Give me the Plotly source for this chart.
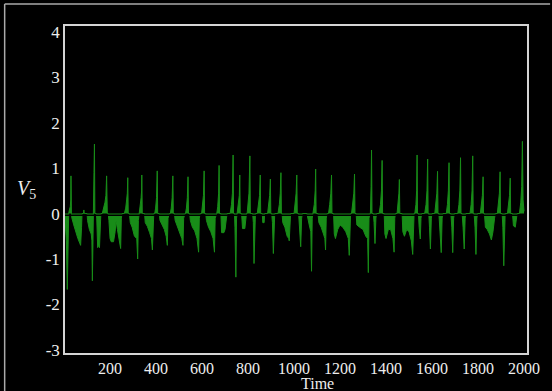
import plotly.graph_objects as go

# Key points of the V5 series (time, value)
time = [
    4, 10, 14, 17, 20, 23, 27, 29, 30, 32,
    34, 42, 50, 60, 68, 72, 76, 78, 84, 86, 88,
    100, 102, 110, 118, 121, 123, 125, 127,
    128, 130, 132, 134,
    140, 142, 146, 150, 154, 157, 160,
    166, 172, 178, 182, 185, 188,
    192, 195, 200, 205, 215, 222, 226, 232, 240, 246, 249, 252,
    262, 268, 272, 275, 277, 279,
    284, 288, 296, 306, 316, 320, 323, 327,
    328, 332, 335, 337, 338, 340,
    350, 353, 362, 372, 380, 384, 387, 390,
    394, 398, 402, 405, 407,
    414, 417, 426, 436, 444, 449, 452, 458,
    462, 466, 470, 473, 475,
    480, 483, 492, 502, 512, 517, 520, 526,
    528, 532, 536, 539, 541,
    546, 549, 558, 568, 578, 585, 588, 592,
    598, 602, 606, 609, 611,
    616, 619, 628, 638, 648, 654, 657, 662,
    664, 668, 672, 674, 676,
    682, 685, 695, 700, 706, 709,
    722, 728, 732, 735, 737,
    741, 743, 747, 750, 752,
    754, 758, 762, 764, 766,
    772, 776, 786, 790, 793,
    796, 800, 804, 808, 810,
    820, 823, 826, 829, 832,
    840, 846, 850, 853, 855,
    862, 864, 870, 872,
    885, 890, 894, 897, 899,
    903, 906, 910, 913, 916,
    930, 936, 940, 943, 945,
    948, 951, 960, 970, 977, 979, 982, 985,
    1000, 1005, 1009, 1012, 1014,
    1020, 1023, 1029, 1033, 1036,
    1056, 1059, 1066, 1073, 1076, 1079, 1082,
    1084, 1088, 1092, 1094, 1096,
    1104, 1108, 1118, 1128, 1134, 1137, 1140, 1144,
    1150, 1155, 1160, 1163, 1165,
    1172, 1175, 1180, 1190, 1200, 1212, 1225, 1236, 1240, 1243, 1246,
    1250, 1255, 1260, 1263, 1265,
    1270, 1273, 1285, 1300, 1312, 1320, 1323, 1326, 1330,
    1332, 1335, 1337, 1339,
    1345, 1348, 1352, 1356, 1359,
    1370, 1376, 1380, 1383, 1385,
    1392, 1395, 1400, 1410, 1420, 1430, 1435, 1438, 1441,
    1448, 1453, 1456, 1458, 1460,
    1470, 1473, 1480, 1490, 1500, 1510, 1516, 1519, 1522,
    1525, 1530, 1533, 1535, 1537,
    1541, 1544, 1549, 1552, 1555,
    1568, 1574, 1578, 1581, 1583,
    1586, 1589, 1593, 1597, 1600,
    1612, 1617, 1621, 1624, 1626,
    1630, 1634, 1640, 1644, 1647,
    1662, 1667, 1671, 1674, 1676,
    1682, 1686, 1690, 1694, 1697,
    1712, 1717, 1721, 1724, 1726,
    1731, 1735, 1740, 1744, 1747,
    1765, 1770, 1774, 1777, 1779,
    1783, 1787, 1791, 1795, 1798,
    1810, 1815, 1819, 1822, 1824,
    1828, 1832, 1840, 1850, 1858, 1865, 1872, 1875,
    1884, 1889, 1893, 1896, 1898,
    1905, 1908, 1912, 1915, 1918,
    1928, 1933, 1937, 1940, 1942,
    1950, 1954, 1962, 1967, 1970,
    1980, 1986, 1990, 1993, 1996, 2000,
]
v5 = [
    -0.1, -0.6, -1.67, -0.2, 0, 0.08, 0.15, 0.3, 0.83, 0,
    -0.1, -0.25, -0.4, -0.55, -0.65, -0.7, -0.3, 0, 0, 0.08, 0,
    0, -0.15, -0.35, -0.45, -0.6, -1.48, -0.3, 0,
    0, 0.9, 1.53, 0,
    0, -0.1, -0.75, -0.7, -0.75, -0.1, 0,
    0, 0.1, 0.25, 0.4, 0.83, 0,
    0, -0.15, -0.55, -0.62, -0.62, -0.4, -0.15, -0.35, -0.6, -0.77, -0.1, 0,
    0, 0.12, 0.3, 0.45, 0.79, 0,
    0, -0.2, -0.3, -0.5, -0.55, -1.0, -0.15, 0,
    0, 0.15, 0.35, 0.5, 0.85, 0,
    0, -0.2, -0.28, -0.42, -0.55, -0.8, -0.1, 0,
    0, 0.12, 0.35, 0.94, 0,
    0, -0.15, -0.25, -0.35, -0.5, -0.7, -0.1, 0,
    0, 0.12, 0.35, 0.83, 0,
    0, -0.15, -0.28, -0.4, -0.55, -0.7, -0.1, 0,
    0, 0.12, 0.35, 0.81, 0,
    0, -0.15, -0.3, -0.38, -0.55, -0.85, -0.1, 0,
    0, 0.15, 0.4, 0.94, 0,
    0, -0.15, -0.3, -0.4, -0.55, -0.85, -0.1, 0,
    0, 0.15, 0.45, 1.06, 0,
    0, -0.42, -0.42, -0.35, -0.1, 0,
    0, 0.2, 0.45, 1.29, 0,
    0, -0.3, -1.4, -0.1, 0,
    0, 0.2, 0.4, 0.85, 0,
    0, -0.33, -0.33, -0.1, 0,
    0, 0.2, 0.45, 1.27, 0,
    0, -0.2, -1.1, -0.1, 0,
    0, 0.2, 0.4, 0.85, 0,
    0, -0.2, -0.2, 0,
    0, 0.2, 0.4, 0.76, 0,
    0, -0.2, -0.88, -0.1, 0,
    0, 0.2, 0.45, 0.9, 0,
    0, -0.2, -0.3, -0.5, -0.55, -0.6, -0.1, 0,
    0, 0.2, 0.45, 0.85, 0,
    0, -0.2, -0.73, -0.1, 0,
    0, -0.1, -0.25, -0.4, -1.27, -0.1, 0,
    0, 0.2, 0.5, 0.98, 0,
    0, -0.2, -0.3, -0.45, -0.55, -0.8, -0.1, 0,
    0, 0.2, 0.45, 0.85, 0,
    0, -0.45, -0.55, -0.35, -0.25, -0.3, -0.4, -0.55, -0.92, -0.1, 0,
    0, 0.2, 0.45, 0.87, 0,
    0, -0.25, -0.3, -0.35, -0.5, -0.55, -1.3, -0.1, 0,
    0, 0.6, 1.4, 0,
    0, -0.2, -0.66, -0.1, 0,
    0, 0.2, 0.5, 1.17, 0,
    0, -0.45, -0.55, -0.35, -0.35, -0.55, -0.85, -0.1, 0,
    0, 0.2, 0.45, 0.75, 0,
    0, -0.4, -0.5, -0.35, -0.4, -0.6, -0.9, -0.1, 0,
    0, 0.2, 0.5, 1.29, 0,
    0, -0.3, -0.56, -0.1, 0,
    0, 0.2, 0.5, 1.2, 0,
    0, -0.3, -0.78, -0.1, 0,
    0, 0.2, 0.45, 0.93, 0,
    0, -0.3, -0.86, -0.1, 0,
    0, 0.2, 0.5, 1.12, 0,
    0, -0.3, -0.86, -0.1, 0,
    0, 0.2, 0.5, 1.23, 0,
    0, -0.3, -0.78, -0.1, 0,
    0, 0.2, 0.5, 1.27, 0,
    0, -0.3, -0.9, -0.1, 0,
    0, 0.2, 0.4, 0.81, 0,
    0, -0.3, -0.35, -0.45, -0.58, -0.4, -0.1, 0,
    0, 0.2, 0.45, 0.92, 0,
    0, -0.3, -1.15, -0.1, 0,
    0, 0.2, 0.4, 0.78, 0,
    0, -0.27, -0.3, -0.1, 0,
    0, 0.25, 0.6, 1.59, 0.3, 0.05,
]

x_ticks = [200, 400, 600, 800, 1000, 1200, 1400, 1600, 1800, 2000]
y_ticks = [-3, -2, -1, 0, 1, 2, 3, 4]

green = "rgb(24,140,24)"
frame = "#d4d4d4"
serif = "Liberation Serif, Times New Roman, DejaVu Serif, serif"
yfont = dict(family=serif, size=17, color="#eeeeee")
xfont = dict(family=serif, size=16, color="#eeeeee")

fig = go.Figure()
fig.add_trace(go.Scatter(
    x=time, y=v5, mode="lines", fill="tozeroy",
    line=dict(color=green, width=1), fillcolor=green,
    hoverinfo="skip", showlegend=False,
))

fig.update_layout(
    width=552, height=391,
    margin=dict(l=65, r=20, t=26, b=38),
    paper_bgcolor="black", plot_bgcolor="black",
    font=yfont,
    xaxis=dict(range=[4, 2013], tickvals=x_ticks, ticktext=[str(t) for t in x_ticks],
               showgrid=False, zeroline=False, showline=True, mirror=True,
               linecolor=frame, linewidth=1.5, ticks="", tickfont=xfont),
    yaxis=dict(range=[-3.07, 4.13], tickvals=y_ticks, ticktext=[str(t) for t in y_ticks],
               showgrid=False, zeroline=False, showline=True, mirror=True,
               linecolor=frame, linewidth=1.5, ticks="", tickfont=yfont),
    shapes=[
        dict(type="line", xref="paper", yref="y", x0=0, x1=1, y0=-0.035, y1=-0.035,
             line=dict(color="black", width=1.5), layer="above"),
        dict(type="line", xref="paper", yref="paper", x0=-0.1306, x1=-0.1306, y0=-0.12, y1=1.067,
             line=dict(color="#aaaaaa", width=1.5)),
        dict(type="line", xref="paper", yref="paper", x0=-0.1306, x1=1.05, y0=1.067, y1=1.067,
             line=dict(color="#aaaaaa", width=1.5)),
    ],
    annotations=[
        dict(text="Time", xref="paper", yref="paper", x=0.546, y=-0.122,
             xanchor="center", yanchor="bottom", showarrow=False, borderpad=0,
             font=dict(family=serif, size=16, color="#eeeeee")),
        dict(text="<i>V</i><sub>5</sub>", xref="paper", yref="paper", x=-0.083, y=0.50,
             xanchor="center", yanchor="middle", showarrow=False,
             font=dict(family=serif, size=20, color="#eeeeee")),
    ],
)

fig.write_html(
    "out.html",
    config={"displayModeBar": False},
    post_script="document.body.style.margin='0';document.body.style.background='black';",
)
